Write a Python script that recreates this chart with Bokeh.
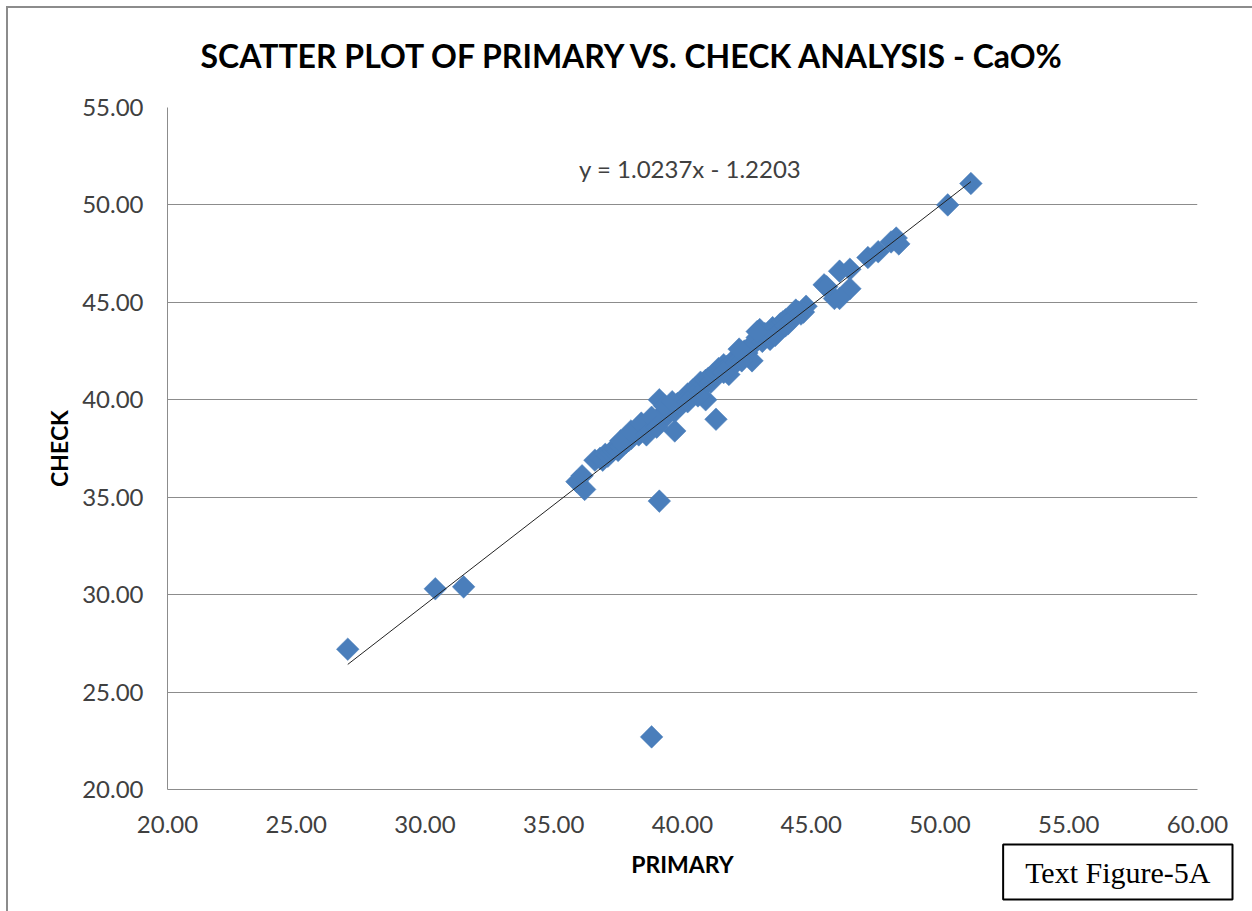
import numpy as np
from bokeh.plotting import figure
from bokeh.models import Label, Title, FixedTicker, CustomJSTickFormatter, Range1d
from bokeh.embed import file_html
from bokeh.resources import INLINE

# ---- data ----
primary = [27.0, 30.4, 31.5, 38.8, 39.1, 35.9, 36.1, 36.2, 50.3, 51.2,
           36.6, 36.8, 36.9, 37.0, 37.1, 37.2, 37.3, 37.4, 37.5, 37.6,
           37.7, 37.8, 37.9, 38.0, 38.1, 38.2, 38.3, 38.4, 38.5, 38.6,
           38.7, 38.8, 38.9, 39.0, 39.1, 39.2, 39.3, 39.4, 39.5, 39.6,
           39.7, 39.7, 39.8, 39.9, 40.0, 40.1, 40.2, 40.3, 40.4, 40.5,
           40.6, 40.7, 40.8, 40.9, 40.9, 41.0, 41.1, 41.2, 41.3, 41.3,
           41.4, 41.5, 41.6, 41.7, 41.8, 41.9, 42.0, 42.1, 42.2, 42.3,
           42.4, 42.5, 42.6, 42.7, 42.8, 42.9, 43.0, 43.1, 43.2, 43.3,
           43.4, 43.5, 43.6, 43.8, 43.9, 44.0, 44.2, 44.3, 44.5, 44.6,
           44.8, 45.5, 45.6, 45.9, 46.1, 46.5, 46.5, 46.1, 47.2, 47.6,
           48.1, 48.3, 48.4, 42.0, 42.3, 43.4, 44.1, 44.7, 41.6, 40.4,
           37.6, 38.0, 38.4, 38.8, 39.3, 39.6, 38.6, 39.0, 40.2, 40.6,
           42.2, 42.9, 43.6, 44.0, 44.4]
check = [27.2, 30.3, 30.4, 22.7, 34.8, 35.8, 36.1, 35.4, 50.0, 51.1,
         36.9, 37.0, 36.9, 37.2, 37.1, 37.3, 37.4, 37.5, 37.4, 37.6,
         37.7, 37.8, 37.9, 38.0, 38.3, 38.4, 38.2, 38.5, 38.6, 38.4,
         38.7, 38.9, 38.8, 39.0, 40.0, 39.1, 39.3, 39.2, 39.5, 39.6,
         38.4, 39.4, 39.8, 39.7, 40.0, 40.1, 40.3, 40.2, 40.5, 40.6,
         40.4, 40.9, 40.7, 40.0, 41.0, 41.1, 40.9, 41.3, 39.0, 41.4,
         41.6, 41.5, 41.8, 41.7, 41.3, 41.9, 42.0, 42.2, 42.1, 42.4,
         42.5, 42.4, 42.7, 42.0, 42.9, 43.2, 43.6, 43.0, 43.4, 43.3,
         43.5, 43.7, 43.6, 43.9, 44.0, 44.1, 44.3, 44.2, 44.5, 44.4,
         44.8, 45.9, 45.8, 45.2, 46.6, 46.7, 45.7, 45.2, 47.3, 47.6,
         48.1, 48.3, 48.0, 41.8, 42.0, 43.1, 43.9, 44.5, 41.4, 40.2,
         37.9, 38.4, 38.8, 39.1, 39.7, 39.9, 38.2, 38.6, 39.9, 40.2,
         42.6, 43.5, 43.3, 43.8, 44.6]

slope = 1.0237
intercept = -1.2203
x_ticks = [20, 25, 30, 35, 40, 45, 50, 55, 60]
y_ticks = [20, 25, 30, 35, 40, 45, 50, 55]

title_text = "SCATTER PLOT OF PRIMARY VS. CHECK ANALYSIS - CaO%"
eq_text = "y = 1.0237x - 1.2203"
caption_text = "Text Figure-5A"

W, H = 1252, 911
FL, FT, FR, FB = 167, 106, 1197, 789   # frame edges in page pixels
p = figure(width=W, height=H, output_backend="svg", toolbar_location=None,
           x_range=Range1d(20, 60), y_range=Range1d(20, 55),
           min_border_left=FL, min_border_right=W - FR, min_border_top=FT,
           min_border_bottom=H - FB)
p.outline_line_color = None
p.background_fill_color = "white"
p.border_fill_color = None
p.styles = {
    "background": "linear-gradient(#8c8c8c,#8c8c8c) 6px 6px / 2px calc(100% - 6px) no-repeat, "
                  "linear-gradient(#8c8c8c,#8c8c8c) 6px 6px / calc(100% - 6px) 2px no-repeat, white"
}

# title
p.title.text = title_text
p.title.align = "left"
p.title.offset = 33
p.title.text_font = "Lato"
p.title.text_font_style = "bold"
p.title.text_font_size = "32px"
p.title.text_color = "black"
p.title.standoff = 66

# grid
p.xgrid.grid_line_color = None
p.ygrid.grid_line_color = "#8c8c8c"
p.ygrid.grid_line_width = 1
p.ygrid.ticker = FixedTicker(ticks=y_ticks)
p.xaxis.ticker = FixedTicker(ticks=x_ticks)
p.yaxis.ticker = FixedTicker(ticks=y_ticks)
fmt = CustomJSTickFormatter(code="return tick.toFixed(2);")
p.xaxis.formatter = fmt
p.yaxis.formatter = fmt

for ax in (p.xaxis[0], p.yaxis[0]):
    ax.axis_line_color = "#8c8c8c"
    ax.major_tick_line_color = None
    ax.minor_tick_line_color = None
    ax.major_label_text_font = "Lato"
    ax.major_label_text_font_size = "24px"
    ax.major_label_text_color = "#404040"
    ax.axis_label_text_font = "Lato"
    ax.axis_label_text_font_style = "bold"
    ax.axis_label_text_font_size = "23px"
    ax.axis_label_text_color = "#000000"
p.xaxis.axis_label = "PRIMARY"
p.yaxis.axis_label = "CHECK"
p.xaxis.major_label_standoff = 20
p.yaxis.major_label_standoff = 18
p.xaxis.axis_label_standoff = 14
p.yaxis.axis_label_standoff = 6

# scatter
p.scatter(primary, check, marker="square", size=16, angle=np.pi / 4,
          fill_color="#4a7ebb", line_color="#4a7ebb", line_width=0.5)

# trend line
xmin, xmax = min(primary), max(primary)
p.line([xmin, xmax], [slope * xmin + intercept, slope * xmax + intercept],
       line_color="#222222", line_width=1)

p.add_layout(Label(x=40.3, y=51.85, text=eq_text, text_font="Lato",
                   text_font_size="24px", text_align="center",
                   text_baseline="middle", text_color="#404040"))

# caption box, placed in the panel below the x axis
cap = Title(text=caption_text, align="right", offset=-35, vertical_align="top",
            standoff=-72, text_font="Liberation Serif", text_font_size="30px",
            text_font_style="normal", text_color="black",
            border_line_color="black", border_line_width=2,
            background_fill_color="white", padding=(22, 22, 11, 11))
p.add_layout(cap, "below")

out = file_html(p, INLINE)
open("out.html", "w").write(out)
